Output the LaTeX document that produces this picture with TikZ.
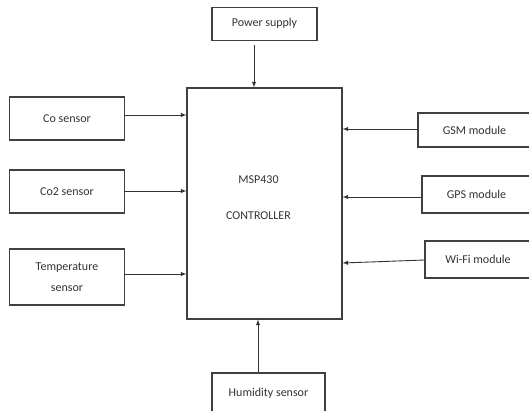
\documentclass[tikz,border=0pt]{standalone}
\usepackage{fontspec}
\setmainfont{Carlito}
\usepackage{tikz}

\tikzset{
    blk/.style={draw=black!75, line width=1.1pt, fill=white, text=black!80,
        align=center, inner sep=0pt, font=\fontsize{12}{21}\selectfont},
    link/.style={draw=black!80, line width=0.9pt, -latex}
}

\begin{document}
\begin{tikzpicture}[x=1pt, y=-1pt]
    \useasboundingbox (0,0) rectangle (529,410);

    % Controller in the middle
    \node[blk, minimum width=155pt, minimum height=231pt] (msp) at (264.5,203.5) {};
    \node[text=black!80, align=center, font=\fontsize{12}{36}\selectfont] (msplbl) at (258.5,198) {MSP430\\CONTROLLER};

    % Top and bottom blocks
    \node[blk, minimum width=105pt, minimum height=33pt] (pwr) at (264.5,23.75) {Power supply};
    \node[blk, minimum width=113pt, minimum height=42pt, text depth=4pt] (hum) at (268.5,394) {Humidity sensor};

    % Sensors on the left
    \node[blk, minimum width=115.5pt, minimum height=43pt] (co) at (67,118.5) {Co sensor};
    \node[blk, minimum width=115.5pt, minimum height=43pt] (co2) at (67,191.5) {Co2 sensor};
    \node[blk, minimum width=115.5pt, minimum height=56pt] (temp) at (67,277) {Temperature\\sensor};

    % Modules on the right (cut by the page edge)
    \node[blk, minimum width=113pt, minimum height=34pt] (gsm) at (474.5,130) {GSM module};
    \node[blk, minimum width=109pt, minimum height=37pt] (gps) at (476.5,194.5) {GPS module};
    \node[blk, minimum width=106pt, minimum height=37pt] (wifi) at (478,259.5) {Wi-Fi module};

    % Draw arrows
    \draw[link] (pwr.south -| 254,0) ++(0,4) -- (msp.north -| 254,0);
    \draw[link] (hum.north -| 258,0) -- (msp.south -| 258,0);
    \draw[link] (co.east |- 0,115) -- (msp.west |- 0,115);
    \draw[link] (co2.east |- 0,191) -- (msp.west |- 0,191);
    \draw[link] (temp.east |- 0,274) -- (msp.west |- 0,274);
    \draw[link] (gsm.west |- 0,129) -- (msp.east |- 0,129);
    \draw[link] (gps.west |- 0,197) -- (msp.east |- 0,197);
    \draw[link] (wifi.west |- 0,260) -- (msp.east |- 0,263);
\end{tikzpicture}
\end{document}
